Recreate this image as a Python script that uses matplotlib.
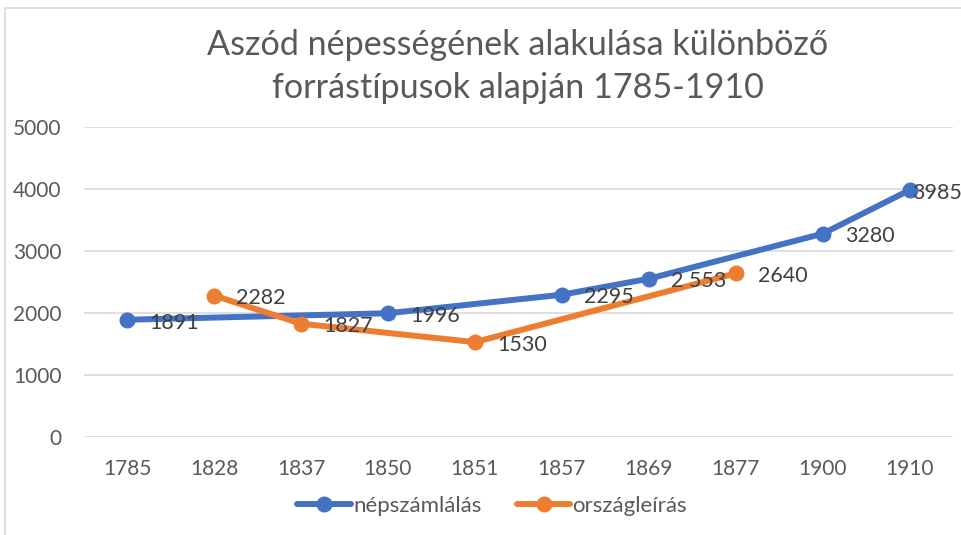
import matplotlib.pyplot as plt
from matplotlib.patches import Rectangle

plt.rcParams['font.family'] = ['Lato', 'DejaVu Sans']

years = ['1785', '1828', '1837', '1850', '1851', '1857', '1869', '1877', '1900', '1910']
nepszamlalas = [1891, None, None, 1996, None, 2295, 2553, None, 3280, 3985]
nepszamlalas_labels = ['1891', '', '', '1996', '', '2295', '2 553', '', '3280', '3985']
orszagleiras = [None, 2282, 1827, None, 1530, None, None, 2640, None, None]
orszagleiras_labels = ['', '2282', '1827', '', '1530', '', '', '2640', '', '']

blue = '#4472C4'
orange = '#ED7D31'
txt = '#595959'

fig = plt.figure(figsize=(9.62, 5.35), dpi=100)
ax = fig.add_axes([0.0868, 0.1832, 0.9042, 0.5794])

# keretvonal a diagram körül
fig.patches.append(Rectangle((5 / 962, -0.1), 1.2, 1 - 8 / 535 + 0.1, transform=fig.transFigure,
                             fill=False, edgecolor='#D9D9D9', linewidth=1.2))


def draw(values, labels, color, name):
    xs = [i for i, v in enumerate(values) if v is not None]
    ys = [v for v in values if v is not None]
    ax.plot(xs, ys, color=color, linewidth=4.3, marker='o', markersize=10.5, label=name,
            solid_capstyle='round', zorder=3)
    for x, y in zip(xs, ys):
        dx = 1.5 if x == len(years) - 1 else 16
        ax.annotate(labels[x], (x, y), xytext=(dx, -2), textcoords='offset points',
                    ha='left', va='center', fontsize=15.5, color='#404040', zorder=4)


draw(nepszamlalas, nepszamlalas_labels, blue, 'népszámlálás')
draw(orszagleiras, orszagleiras_labels, orange, 'országleírás')

ax.set_xlim(-0.5, len(years) - 0.5)
ax.set_ylim(0, 5000)
ax.set_xticks(range(len(years)))
ax.set_xticklabels(years)
ax.set_yticks(range(0, 5001, 1000))
ax.grid(axis='y', color='#D9D9D9', linewidth=1.2)
ax.set_axisbelow(True)
for s in ax.spines.values():
    s.set_visible(False)
ax.tick_params(length=0, labelsize=15, labelcolor=txt)
ax.tick_params(axis='x', pad=16)
ax.tick_params(axis='y', pad=16)

fig.text(0.538, 0.876, 'Aszód népességének alakulása különböző\nforrástípusok alapján 1785-1910',
         ha='center', va='center', fontsize=24.6, color=txt, linespacing=1.4)

ax.legend(loc='upper center', bbox_to_anchor=(0.47, -0.125), ncol=2, frameon=False,
          fontsize=16, labelcolor=txt, handlelength=2.4, handletextpad=0.1, columnspacing=1.6)

fig.savefig('out.png', dpi=100)
